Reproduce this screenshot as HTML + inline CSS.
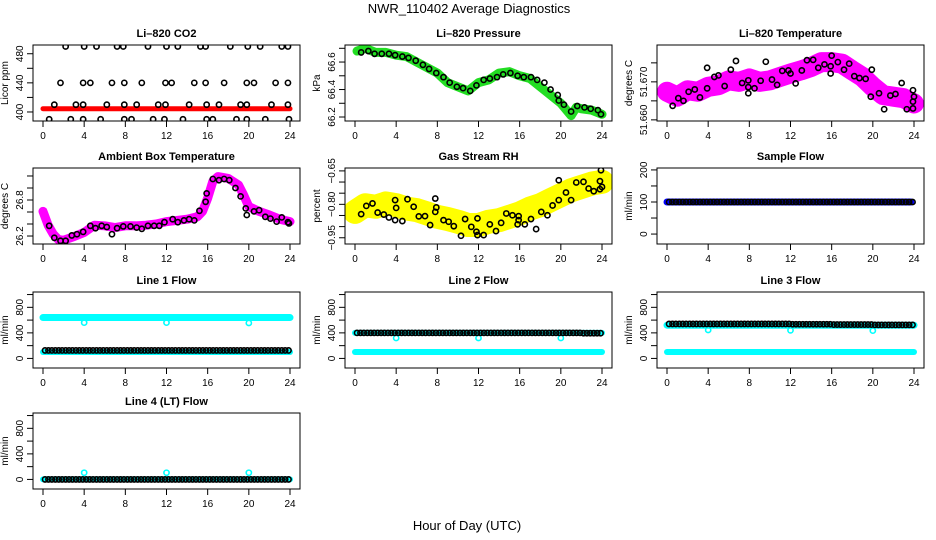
<!DOCTYPE html>
<html><head><meta charset="utf-8">
<style>
html,body{margin:0;padding:0;background:#fff;}
svg{display:block;font-family:"Liberation Sans",sans-serif;}
</style></head>
<body>
<svg id="chart" width="936" height="540" viewBox="0 0 936 540" xmlns="http://www.w3.org/2000/svg">
<text x="469" y="13" font-size="13" text-anchor="middle">NWR_110402  Average Diagnostics</text>
<text x="467" y="530" font-size="13" text-anchor="middle">Hour of Day (UTC)</text>
</svg>
<script>
// ---------- data ----------
const hours25 = [0,1,2,3,4,5,6,7,8,9,10,11,12,13,14,15,16,17,18,19,20,21,22,23,24];
const xTicks = [0,4,8,12,16,20,24];

// CO2
const co2BandX = [0,24];
const co2BandY = [404.5,404.5];
const co2BlackX = [2.2,4.0,5.2,7.2,7.8,10.2,12.0,13.1,15.3,15.8,18.2,19.9,21.1,23.2,23.8,
 1.7,3.9,4.6,6.7,7.9,9.6,11.9,12.5,14.7,15.8,17.6,19.8,20.5,22.6,23.8,
 1.1,3.2,3.9,6.2,7.9,9.1,11.2,11.9,14.2,15.9,17.1,19.2,19.8,22.2,23.8,
 0.6,2.7,3.9,5.6,7.9,8.6,10.7,11.8,13.6,15.9,16.5,18.8,19.8,21.6,23.9];
const co2BlackY = [490,490,490,490,490,490,490,490,490,490,490,490,490,490,490,
 440,440,440,440,440,440,440,440,440,440,440,440,440,440,440,
 410,410,410,410,410,410,410,410,410,410,410,410,410,410,410,
 390,390,390,390,390,390,390,390,390,390,390,390,390,390,390];

// Pressure
const presX = [0.2,1,2,3,4,5,6,7,8,9,10,11,12,13,14,15,16,17,18,19,20,21,21.5,22,23,24];
const presY = [66.68,66.70,66.67,66.67,66.65,66.64,66.60,66.56,66.52,66.45,66.42,66.39,66.45,66.47,66.52,66.53,66.50,66.48,66.42,66.36,66.30,66.21,66.27,66.26,66.25,66.22];
const presBlackX = [0.6,1.3,1.9,2.6,3.3,3.9,4.6,5.2,5.9,6.6,7.2,7.9,8.6,9.2,9.9,10.5,11.2,11.8,12.5,13.1,13.8,14.4,15.1,15.8,16.4,17.1,17.7,18.4,19.0,19.7,19.8,20.3,21.0,21.6,22.3,22.9,23.6,23.9];
const presBlackY = [66.67,66.68,66.66,66.66,66.66,66.65,66.64,66.63,66.61,66.58,66.55,66.52,66.49,66.45,66.42,66.41,66.39,66.43,66.47,66.48,66.49,66.51,66.52,66.50,66.49,66.49,66.47,66.45,66.40,66.36,66.32,66.29,66.24,66.28,66.27,66.26,66.25,66.22];

// Li-820 temperature
const tempX = hours25;
const tempY = [51.6674,51.6661,51.6678,51.6674,51.6687,51.6691,51.6704,51.6700,51.6709,51.6700,51.6704,51.6713,51.6722,51.6730,51.6739,51.6752,51.6752,51.6748,51.6730,51.6713,51.6687,51.6665,51.6661,51.6657,51.6643];
const tempBlackX = [0.55,1.1,1.6,2.1,2.7,3.2,3.9,3.9,4.6,5.0,5.6,6.2,6.7,7.3,7.9,7.9,7.9,8.5,9.1,9.6,10.2,10.7,11.2,11.8,12.0,12.5,13.1,13.6,14.2,14.7,15.3,15.9,15.9,16.0,16.6,17.2,17.7,18.2,18.7,19.3,19.8,19.9,20.6,21.1,21.7,22.2,22.8,23.3,23.9,23.9,24.0,23.9];
const tempBlackY = [51.6637,51.6657,51.6650,51.6674,51.6680,51.6659,51.6737,51.6683,51.6713,51.6717,51.6689,51.6732,51.6755,51.6697,51.6704,51.6686,51.6670,51.6683,51.6703,51.6753,51.6706,51.6692,51.6729,51.6730,51.6722,51.6696,51.6730,51.6757,51.6758,51.6737,51.6746,51.6741,51.6722,51.6769,51.6752,51.6732,51.6748,51.6715,51.6710,51.6708,51.6661,51.6732,51.6670,51.6628,51.6664,51.6668,51.6697,51.6628,51.6630,51.6648,51.6661,51.6678];

// Ambient box temperature
const ambX = [0,0.5,1,1.5,2,3,4,5,6,7,8,9,10,11,12,13,14,15,15.5,16,16.5,17,18,19,19.5,20,21,22,23,24];
const ambY = [26.61,26.38,26.23,26.14,26.13,26.19,26.26,26.38,26.37,26.34,26.37,26.37,26.38,26.40,26.44,26.46,26.48,26.52,26.61,26.83,27.11,27.19,27.16,27.05,26.88,26.69,26.61,26.55,26.48,26.44];
const ambBlackX = [0.6,1.1,1.7,2.2,2.8,3.3,3.9,4.6,5.1,5.7,6.2,6.7,7.2,7.8,8.5,9.1,9.6,10.2,10.8,11.3,11.8,12.6,13.1,13.7,14.2,14.7,15.2,15.8,15.9,16.5,17.1,17.6,18.1,18.7,19.2,19.7,19.8,20.5,21.0,21.6,22.1,22.7,23.2,23.8,23.9];
const ambBlackY = [26.37,26.17,26.12,26.12,26.21,26.23,26.27,26.37,26.33,26.37,26.35,26.23,26.33,26.36,26.36,26.34,26.32,26.37,26.37,26.37,26.43,26.48,26.43,26.46,26.48,26.46,26.62,26.77,26.91,27.15,27.13,27.15,27.13,27.00,26.86,26.66,26.55,26.61,26.63,26.52,26.49,26.44,26.51,26.43,26.41];

// Gas stream RH
const rhX = hours25;
const rhY = [-0.834,-0.804,-0.811,-0.796,-0.804,-0.819,-0.826,-0.841,-0.856,-0.866,-0.878,-0.893,-0.893,-0.878,-0.871,-0.856,-0.841,-0.819,-0.804,-0.781,-0.759,-0.737,-0.722,-0.707,-0.699];
const rhBlackX = [0.6,1.1,1.7,2.2,2.8,3.3,3.9,3.9,4.0,4.6,5.1,5.7,6.2,6.8,7.3,7.8,7.8,7.9,8.6,9.1,9.6,10.3,10.7,11.3,11.8,11.9,11.9,12.5,13.1,13.7,14.2,14.7,15.3,15.9,15.9,15.8,16.5,17.1,17.6,18.1,18.7,19.2,19.8,19.8,20.5,21.0,21.5,22.2,22.7,23.2,23.8,23.8,23.9,24.0];
const rhBlackY = [-0.844,-0.807,-0.796,-0.837,-0.846,-0.859,-0.781,-0.871,-0.816,-0.875,-0.777,-0.811,-0.854,-0.853,-0.893,-0.774,-0.834,-0.814,-0.871,-0.878,-0.898,-0.941,-0.866,-0.901,-0.923,-0.863,-0.938,-0.938,-0.890,-0.920,-0.883,-0.841,-0.849,-0.853,-0.871,-0.890,-0.890,-0.866,-0.911,-0.834,-0.849,-0.805,-0.692,-0.781,-0.747,-0.781,-0.702,-0.699,-0.729,-0.741,-0.732,-0.696,-0.647,-0.722];

// Sample flow
const sampleBandX = [0,23.7];
const sampleBandY = [100,100];
const sampleBlack = [100,100,100,100,100,100,100,100,100,100,100,100,100,100,100,100,100,100,100,100,100,100,100,100];

// Line flows (hourly values)
const line1High = [640,640,640,640,640,640,640,640,640,640,640,640,640,640,640,640,640,640,640,640,640,640,640,640,640];
const line1Low = [100,100,100,100,100,100,100,100,100,100,100,100,100,100,100,100,100,100,100,100,100,100,100,100,100];
const line1Black = [125,125,125,125,125,125,125,125,125,125,125,125,125,125,125,125,125,125,125,125,125,125,125,125];
const line2High = [400,400,400,400,400,400,400,400,400,400,400,400,400,400,400,400,400,400,400,400,400,400,400,400,400];
const line2Low = [100,100,100,100,100,100,100,100,100,100,100,100,100,100,100,100,100,100,100,100,100,100,100,100,100];
const line2Black = [400,400,400,400,400,400,400,400,400,400,400,400,400,400,400,400,400,400,400,400,400,400,395,395];
const line3High = [520,520,520,520,520,520,520,520,520,520,520,520,520,520,520,520,520,520,520,520,520,520,520,520,520];
const line3Low = [100,100,100,100,100,100,100,100,100,100,100,100,100,100,100,100,100,100,100,100,100,100,100,100,100];
const line3Black = [540,540,540,540,540,540,540,540,540,540,540,540,535,535,535,535,530,530,530,530,525,525,525,525];
const line4Cyan = [0,0,0,0,0,0,0,0,0,0,0,0,0,0,0,0,0,0,0,0,0,0,0,0,0];
const line4Black = [0,0,0,0,0,0,0,0,0,0,0,0,0,0,0,0,0,0,0,0,0,0,0,0];
const dipX = [4,12,20];
const line1DipY = [560,560,555];
const line2DipY = [320,320,320];
const line3DipY = [445,440,435];
const line4SpikeY = [105,105,105];

// ---------- drawing ----------
const NS = 'http://www.w3.org/2000/svg';
const svg = document.getElementById('chart');
const colL = [33,345,657], rowT = [45,168,292,413], W = 267, H = 76;
function mk(tag, attrs, parent){
  const e = document.createElementNS(NS, tag);
  for (const k in attrs) e.setAttribute(k, attrs[k]);
  (parent||svg).appendChild(e);
  return e;
}
function panel(col,row,cfg){
  const L = colL[col], T = rowT[row];
  const g = mk('g',{});
  
  
  const sx = h => L + 10 + h*(247/24);
  const sy = v => T + H - (v - cfg.ymin)/(cfg.ymax - cfg.ymin)*H;
  const t = mk('text',{x:L+W/2,y:T-8,'font-size':'11','font-weight':'bold','text-anchor':'middle'},g);
  t.textContent = cfg.title;
  
  
  const yt = mk('text',{x:0,y:0,'font-size':'10','text-anchor':'middle',transform:`translate(${L-25},${T+H/2}) rotate(-90)`},g);
  yt.textContent = cfg.ytitle;
  
  
  xTicks.forEach(h=>{
    mk('line',{x1:sx(h),x2:sx(h),y1:T+H,y2:T+H+6,stroke:'#000','stroke-width':1},g);
    const lb = mk('text',{x:sx(h),y:T+H+18,'font-size':'10','text-anchor':'middle'},g);
    lb.textContent = h;
    
    
  });
  cfg.ticks.forEach(v=>{
    mk('line',{x1:L-6,x2:L,y1:sy(v),y2:sy(v),stroke:'#000','stroke-width':1},g);
  });
  cfg.labels.forEach(v=>{
    const lb = mk('text',{x:0,y:0,'font-size':'10','text-anchor':'middle',transform:`translate(${L-10},${sy(v)}) rotate(-90)`},g);
    lb.textContent = cfg.fmt ? cfg.fmt(v) : v;
    
    
  });
  const clip = 'clip'+col+row;
  const cp = mk('clipPath',{id:clip},g);
  mk('rect',{x:L,y:T,width:W,height:H},cp);
  const plot = mk('g',{'clip-path':`url(#${clip})`},g);
  cfg.draw(plot, sx, sy);
  mk('rect',{x:L,y:T,width:W,height:H,fill:'none',stroke:'#000','stroke-width':1},g);
}
function band(p,sx,sy,xs,ys,color,w,name){
  const pts = xs.map((x,i)=>sx(x)+','+sy(ys[i])).join(' ');
  const pl = mk('polyline',{points:pts,fill:'none',stroke:color,'stroke-width':w,'stroke-linecap':'round','stroke-linejoin':'round'},p);
  
  
}
function pts(p,sx,sy,xs,ys,color,name){
  xs.forEach((x,i)=>{
    const c = mk('circle',{cx:sx(x),cy:sy(ys[i]),r:2.6,fill:'none',stroke:color,'stroke-width':1.6},p);
    
    
  });
}
function hourly(p,sx,sy,vals,color,name){
  vals.forEach((v,i)=>{
    [0.2,0.53,0.86].forEach(f=>{
      const c = mk('circle',{cx:sx(i+f),cy:sy(v),r:2.6,fill:'none',stroke:color,'stroke-width':1.6},p);
      
      
    });
  });
}
const flowTicks = [0,200,400,600,800,1000], flowLabels=[0,400,800];

panel(0,0,{name:'co2-panel',title:'Li\u2013820 CO2',ytitle:'Licor ppm',ymin:387.6,ymax:492,ticks:[400,420,440,460,480],labels:[400,440,480],
  draw:(p,sx,sy)=>{band(p,sx,sy,co2BandX,co2BandY,'#ff0000',5,'co2-series');pts(p,sx,sy,co2BlackX,co2BlackY,'#000','co2-avg-point');}});
panel(1,0,{name:'pressure-panel',title:'Li\u2013820 Pressure',ytitle:'kPa',ymin:66.171,ymax:66.724,ticks:[66.2,66.3,66.4,66.5,66.6,66.7],labels:[66.2,66.4,66.6],fmt:v=>v.toFixed(1),
  draw:(p,sx,sy)=>{band(p,sx,sy,presX,presY,'#22dd22',9,'pressure-series');pts(p,sx,sy,presBlackX,presBlackY,'#000','pressure-avg-point');}});
panel(2,0,{name:'li820-temperature-panel',title:'Li\u2013820 Temperature',ytitle:'degrees C',ymin:51.6597,ymax:51.6797,ticks:[51.660,51.665,51.670,51.675],labels:[51.660,51.670],fmt:v=>v.toFixed(3),
  draw:(p,sx,sy)=>{band(p,sx,sy,tempX,tempY,'#ff00ff',20,'temperature-series');pts(p,sx,sy,tempBlackX,tempBlackY,'#000','temperature-avg-point');}});
panel(0,1,{name:'ambient-temperature-panel',title:'Ambient Box Temperature',ytitle:'degrees C',ymin:26.067,ymax:27.333,ticks:[26.2,26.4,26.6,26.8,27.0,27.2],labels:[26.2,26.8],fmt:v=>v.toFixed(1),
  draw:(p,sx,sy)=>{band(p,sx,sy,ambX,ambY,'#ff00ff',9,'ambient-series');pts(p,sx,sy,ambBlackX,ambBlackY,'#000','ambient-avg-point');}});
panel(1,1,{name:'rh-panel',title:'Gas Stream RH',ytitle:'percent',ymin:-0.978,ymax:-0.637,ticks:[-0.95,-0.9,-0.85,-0.8,-0.75,-0.7,-0.65],labels:[-0.95,-0.80,-0.65],fmt:v=>'\u2212'+Math.abs(v).toFixed(2),
  draw:(p,sx,sy)=>{band(p,sx,sy,rhX,rhY,'#ffff00',24,'rh-series');pts(p,sx,sy,rhBlackX,rhBlackY,'#000','rh-avg-point');}});
panel(2,1,{name:'sample-flow-panel',title:'Sample Flow',ytitle:'ml/min',ymin:-31,ymax:206,ticks:[0,50,100,150,200],labels:[0,100,200],
  draw:(p,sx,sy)=>{band(p,sx,sy,sampleBandX,sampleBandY,'#0000ff',7,'sample-flow-series');hourly(p,sx,sy,sampleBlack,'#000','sample-flow-avg-point');}});
panel(0,2,{name:'line1-flow-panel',title:'Line 1 Flow',ytitle:'ml/min',ymin:-150,ymax:1040,ticks:flowTicks,labels:flowLabels,
  draw:(p,sx,sy)=>{band(p,sx,sy,hours25,line1High,'#00ffff',7,'line1-high-series');band(p,sx,sy,hours25,line1Low,'#00ffff',6,'line1-low-series');pts(p,sx,sy,dipX,line1DipY,'#00ffff','line1-dip');hourly(p,sx,sy,line1Black,'#000','line1-avg-point');}});
panel(1,2,{name:'line2-flow-panel',title:'Line 2 Flow',ytitle:'ml/min',ymin:-150,ymax:1040,ticks:flowTicks,labels:flowLabels,
  draw:(p,sx,sy)=>{band(p,sx,sy,hours25,line2High,'#00ffff',6,'line2-high-series');band(p,sx,sy,hours25,line2Low,'#00ffff',6,'line2-low-series');pts(p,sx,sy,dipX,line2DipY,'#00ffff','line2-dip');hourly(p,sx,sy,line2Black,'#000','line2-avg-point');}});
panel(2,2,{name:'line3-flow-panel',title:'Line 3 Flow',ytitle:'ml/min',ymin:-150,ymax:1040,ticks:flowTicks,labels:flowLabels,
  draw:(p,sx,sy)=>{band(p,sx,sy,hours25,line3High,'#00ffff',7,'line3-high-series');band(p,sx,sy,hours25,line3Low,'#00ffff',6,'line3-low-series');pts(p,sx,sy,dipX,line3DipY,'#00ffff','line3-dip');hourly(p,sx,sy,line3Black,'#000','line3-avg-point');}});
panel(0,3,{name:'line4-flow-panel',title:'Line 4 (LT) Flow',ytitle:'ml/min',ymin:-150,ymax:1040,ticks:flowTicks,labels:flowLabels,
  draw:(p,sx,sy)=>{band(p,sx,sy,hours25,line4Cyan,'#00ffff',6,'line4-series');pts(p,sx,sy,dipX,line4SpikeY,'#00ffff','line4-spike');hourly(p,sx,sy,line4Black,'#000','line4-avg-point');}});
</script>
</body></html>
